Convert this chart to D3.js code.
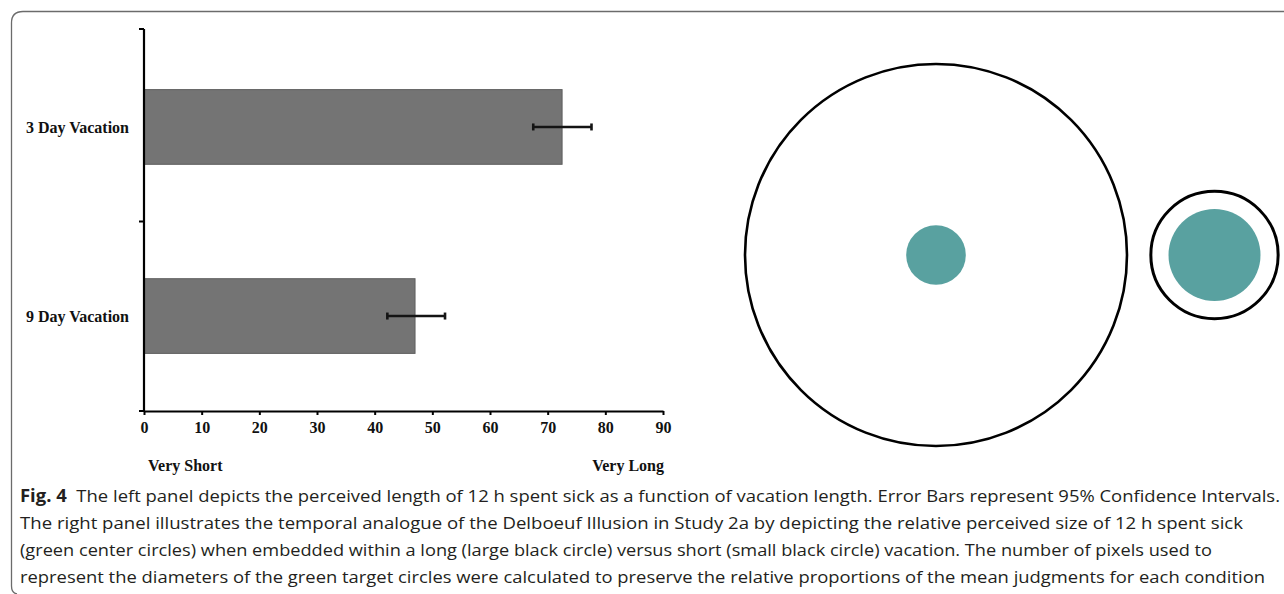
<!DOCTYPE html>
<html>
<head>
<meta charset="utf-8">
<script src="https://cdn.jsdelivr.net/npm/d3@7"></script>
<style>
  html, body { margin: 0; padding: 0; background: #fff; }
  svg { display: block; }
</style>
</head>
<body>
<svg id="fig" width="1284" height="594"></svg>
<script>
// Perceived length of 12 h spent sick, by vacation length
const categories = ["3 Day Vacation", "9 Day Vacation"];
const vacationDays = [3, 9];
const meanRating = [72.5, 47.0];
const ciLow = [67.5, 42.2];
const ciHigh = [77.6, 52.2];
const xTicks = [0, 10, 20, 30, 40, 50, 60, 70, 80, 90];
const anchorLabels = ["Very Short", "Very Long"];

// Delboeuf panel: long vacation on the left (large ring), short on the right
const ringOrder = ["9 Day Vacation", "3 Day Vacation"];

const captionBold = "Fig. 4";
const captionLines = [
  "The left panel depicts the perceived length of 12 h spent sick as a function of vacation length. Error Bars represent 95% Confidence Intervals.",
  "The right panel illustrates the temporal analogue of the Delboeuf Illusion in Study 2a by depicting the relative perceived size of 12 h spent sick",
  "(green center circles) when embedded within a long (large black circle) versus short (small black circle) vacation. The number of pixels used to",
  "represent the diameters of the green target circles were calculated to preserve the relative proportions of the mean judgments for each condition"
];

const svg = d3.select("#fig");
const serif = "'Liberation Serif', 'Times New Roman', serif";
const sans = "'Open Sans', 'Noto Sans', sans-serif";

// ---- frame around the figure ----
svg.append("path")
  .attr("d", "M1284,11.5 L23,11.5 Q11.5,11.5 11.5,23 L11.5,586 Q11.5,593 17,594")
  .attr("fill", "none")
  .attr("stroke", "#6b6b6b")
  .attr("stroke-width", 1.3);

// ---- left panel: horizontal bar chart ----
const axisLeft = 144, axisRight = 663, axisTop = 29, axisBottom = 411;

const x = d3.scaleLinear().domain([0, 90]).range([axisLeft, axisRight]);
const y = d3.scaleBand()
  .domain(categories)
  .range([31, 412])
  .paddingInner(0.605)
  .paddingOuter(0.31);

const chart = svg.append("g");

// bars
chart.selectAll("rect.bar")
  .data(categories)
  .join("rect")
  .attr("class", "bar")
  .attr("x", x(0))
  .attr("y", d => y(d))
  .attr("width", (d, i) => x(meanRating[i]) - x(0))
  .attr("height", y.bandwidth())
  .attr("fill", "#747474")
  .attr("stroke", "#5e5e5e")
  .attr("stroke-width", 1);

// error bars (95% CI)
const err = chart.selectAll("g.err")
  .data(categories)
  .join("g")
  .attr("class", "err")
  .attr("transform", d => `translate(0,${y(d) + y.bandwidth() / 2})`);
err.append("line")
  .attr("x1", (d, i) => x(ciLow[i]))
  .attr("x2", (d, i) => x(ciHigh[i]))
  .attr("stroke", "#141414")
  .attr("stroke-width", 2.6);
[ciLow, ciHigh].forEach(arr => {
  err.append("line")
    .attr("x1", (d, i) => x(arr[i]))
    .attr("x2", (d, i) => x(arr[i]))
    .attr("y1", -3.5)
    .attr("y2", 3.5)
    .attr("stroke", "#141414")
    .attr("stroke-width", 2.6);
});

// x axis
const xAxis = chart.append("g")
  .attr("transform", `translate(0,${axisBottom})`)
  .call(d3.axisBottom(x).tickValues(xTicks).tickSize(4).tickSizeOuter(0).tickPadding(7));
xAxis.select(".domain").attr("stroke", "#000").attr("stroke-width", 2.2);
xAxis.selectAll(".tick line").attr("stroke", "#000").attr("stroke-width", 2);
xAxis.selectAll(".tick text")
  .attr("fill", "#111")
  .style("font-family", serif)
  .style("font-weight", "bold")
  .style("font-size", "16px");

// y axis: line with ticks at the category boundaries
const yLine = chart.append("g");
yLine.append("line")
  .attr("x1", axisLeft).attr("x2", axisLeft)
  .attr("y1", axisTop).attr("y2", axisBottom + 1)
  .attr("stroke", "#000").attr("stroke-width", 2.2);
const boundary = [axisTop, (y(categories[0]) + y.bandwidth() + y(categories[1])) / 2, axisBottom];
yLine.selectAll("line.tk")
  .data(boundary)
  .join("line")
  .attr("class", "tk")
  .attr("x1", axisLeft - 5).attr("x2", axisLeft)
  .attr("y1", d => d).attr("y2", d => d)
  .attr("stroke", "#000").attr("stroke-width", 2);

// category labels
chart.selectAll("text.cat")
  .data(categories)
  .join("text")
  .attr("class", "cat")
  .attr("x", 129)
  .attr("y", d => y(d) + y.bandwidth() / 2)
  .attr("dy", "0.35em")
  .attr("text-anchor", "end")
  .attr("fill", "#111")
  .style("font-family", serif)
  .style("font-weight", "bold")
  .style("font-size", "16px")
  .text(d => d);

// scale anchors
chart.selectAll("text.anchor")
  .data(anchorLabels)
  .join("text")
  .attr("class", "anchor")
  .attr("x", (d, i) => i === 0 ? x(0) + 4 : x(90) + 1)
  .attr("y", 471)
  .attr("text-anchor", (d, i) => i === 0 ? "start" : "end")
  .attr("fill", "#111")
  .style("font-family", serif)
  .style("font-weight", "bold")
  .style("font-size", "16px")
  .text(d => d);

// ---- right panel: Delboeuf-style circles ----
const ringRadius = d3.scaleLinear().domain([0, 9]).range([0, 191]);
const targetRadius = d3.scaleLinear().domain([0, 72.5]).range([0, 46]);
const ringX = [936, 1214.5];
const cy = 255;

const rings = svg.append("g").selectAll("g")
  .data(ringOrder)
  .join("g")
  .attr("transform", (d, i) => `translate(${ringX[i]},${cy})`);

rings.append("circle")
  .attr("r", d => ringRadius(vacationDays[categories.indexOf(d)]))
  .attr("fill", "none")
  .attr("stroke", "#000")
  .attr("stroke-width", (d, i) => i === 0 ? 2.6 : 3);

rings.append("circle")
  .attr("r", d => targetRadius(meanRating[categories.indexOf(d)]))
  .attr("fill", "#59a1a0");

// ---- caption ----
const capX = 20, capY0 = 502, capStep = 27;
const capWidths = [1260, 1223, 1192, 1245];
const cap = svg.append("g")
  .style("font-family", sans)
  .style("font-size", "17px")
  .attr("fill", "#231f20");

captionLines.forEach((line, i) => {
  const t = cap.append("text")
    .attr("x", capX)
    .attr("y", capY0 + i * capStep)
    .attr("textLength", capWidths[i])
    .attr("lengthAdjust", "spacingAndGlyphs");
  if (i === 0) {
    t.append("tspan").style("font-weight", "bold").text(captionBold + "\u00a0\u00a0");
  }
  t.append("tspan").text(line);
});
</script>
</body>
</html>
